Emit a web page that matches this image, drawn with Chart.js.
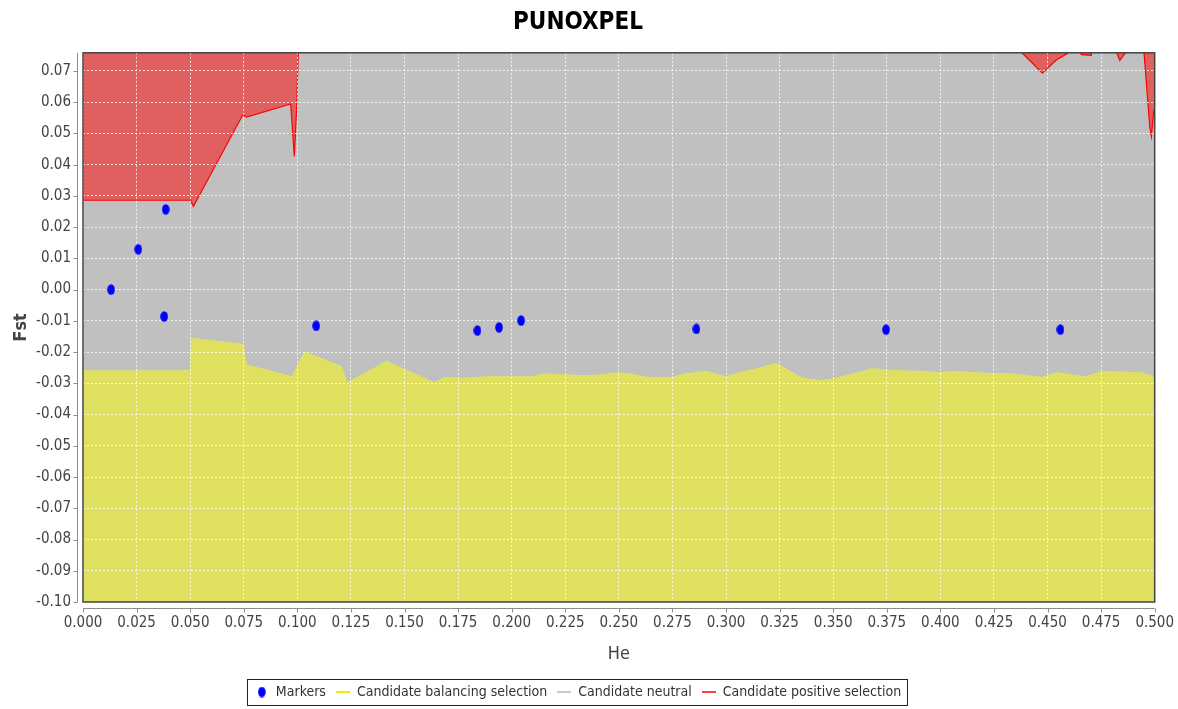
<!DOCTYPE html>
<html>
<head>
<meta charset="utf-8">
<script src="https://cdn.jsdelivr.net/npm/chart.js@4.4.1/dist/chart.umd.min.js"></script>
<style>
  html, body { margin: 0; background: #fff; }
</style>
</head>
<body>
<canvas id="chart" width="1178" height="709"></canvas>
<script>
// Fst vs He outlier plot (BayeScan/LOSITAN style): three selection regions + markers.

const chartTitle = 'PUNOXPEL';

// Markers
const markerHe  = [0.0131, 0.0258, 0.0386, 0.0379, 0.1088, 0.1840, 0.1941, 0.2044, 0.2862, 0.3747, 0.4560];
const markerFst = [0.0000, 0.0129, 0.0257, -0.0086, -0.0116, -0.0131, -0.0121, -0.0099, -0.0126, -0.0128, -0.0128];

// Upper edge of the balancing-selection region
const balHe = [0, 0.0500, 0.0505, 0.0747, 0.0763, 0.0976, 0.1033, 0.1205, 0.1233, 0.1417,
  0.1639, 0.1688, 0.1769, 0.1884, 0.2097, 0.2146, 0.2244, 0.2358, 0.2412, 0.2497,
  0.2549, 0.2635, 0.2747, 0.2807, 0.2910, 0.2996, 0.3064, 0.3151, 0.3233, 0.3357,
  0.3443, 0.3512, 0.3615, 0.3684, 0.3770, 0.3925, 0.3993, 0.4062, 0.4216, 0.4337,
  0.4474, 0.4543, 0.4681, 0.4750, 0.4938, 0.5000];
const balFst = [-0.0260, -0.0260, -0.0156, -0.0175, -0.0241, -0.0279, -0.0199, -0.0246, -0.0298, -0.0230,
  -0.0298, -0.0281, -0.0284, -0.0279, -0.0279, -0.0270, -0.0273, -0.0276, -0.0273, -0.0266,
  -0.0270, -0.0281, -0.0281, -0.0270, -0.0262, -0.0279, -0.0266, -0.0252, -0.0236, -0.0284,
  -0.0292, -0.0284, -0.0266, -0.0253, -0.0259, -0.0262, -0.0266, -0.0262, -0.0268, -0.0270,
  -0.0281, -0.0266, -0.0279, -0.0262, -0.0266, -0.0281];

// Lower edge of the positive-selection region (values above the axis top are off-chart)
const posHe = [0, 0.0502, 0.0515, 0.0745, 0.0763, 0.0969, 0.0986, 0.0997, 0.1004, 0.1020,
  0.4370, 0.4378, 0.4476, 0.4541, 0.4596, 0.4625, 0.4658, 0.4704, 0.4712, 0.4818,
  0.4822, 0.4837, 0.4865, 0.4870, 0.4945, 0.4950, 0.4977, 0.4985, 0.4995, 0.5000];
const posFst = [0.0286, 0.0286, 0.0266, 0.0559, 0.0552, 0.0594, 0.0426, 0.0586, 0.0751, 0.0790,
  0.0790, 0.0760, 0.0693, 0.0735, 0.0757, 0.0790, 0.0752, 0.0750, 0.0790, 0.0790,
  0.0760, 0.0733, 0.0760, 0.0790, 0.0790, 0.0760, 0.0522, 0.0490, 0.0570, 0.0580];

const seriesLabels = ['Markers', 'Candidate balancing selection', 'Candidate neutral', 'Candidate positive selection'];

const xMin = 0, xMax = 0.5, xStep = 0.025;
const yMin = -0.10, yMax = 0.0758, yStep = 0.01;

const FONT = "'DejaVu Sans Condensed', 'DejaVu Sans', sans-serif";
const col = {
  marker: '#0000ff',
  yellow: '#e0e060',
  gray:   '#c0c0c0',
  redFill:'#e06060',
  red:    '#ff0000',
};

const pts = (xs, ys) => xs.map((x, i) => ({ x, y: ys[i] }));

// small canvas icons for the legend (and the oval marker)
function icon(w, h, draw) {
  const c = document.createElement('canvas');
  c.width = w; c.height = h;
  draw(c.getContext('2d'));
  return c;
}
const ovalIcon = icon(8, 11, g => {
  g.fillStyle = col.marker;
  g.beginPath(); g.ellipse(4, 5.5, 3.8, 5.2, 0, 0, Math.PI * 2); g.fill();
});
const lineIcon = color => icon(14, 2, g => { g.fillStyle = color; g.fillRect(0, 0, 14, 2); });
const legendIcons = [ovalIcon, lineIcon('#f0f000'), lineIcon('#c8c8c8'), lineIcon('#ff4040')];

const plotFrame = {
  id: 'plotFrame',
  beforeDatasetDraw(chart, args) {
    // grid sits on top of the filled regions, below the markers
    if (args.index !== 0) return;
    chart.scales.x.drawGrid(chart.chartArea);
    chart.scales.y.drawGrid(chart.chartArea);
  },
  afterDraw(chart) {
    const { ctx, chartArea: a, scales } = chart;
    ctx.save();
    ctx.strokeStyle = '#8c8c8c';
    ctx.lineWidth = 1;
    const ax = a.left - 5.5, ay = a.bottom + 6.5;
    ctx.beginPath();
    ctx.moveTo(ax, a.top); ctx.lineTo(ax, a.bottom);
    scales.y.ticks.forEach(t => {
      const y = Math.round(scales.y.getPixelForValue(t.value)) + 0.5;
      ctx.moveTo(ax - 4, y); ctx.lineTo(ax, y);
    });
    ctx.moveTo(a.left, ay); ctx.lineTo(a.right, ay);
    scales.x.ticks.forEach(t => {
      const x = Math.round(scales.x.getPixelForValue(t.value)) + 0.5;
      ctx.moveTo(x, ay); ctx.lineTo(x, ay + 4);
    });
    ctx.stroke();

    ctx.strokeStyle = '#444';
    ctx.lineWidth = 1.5;
    ctx.strokeRect(a.left, a.top, a.width, a.height);

    // frame round the legend
    const hb = chart.legend.legendHitBoxes;
    if (hb && hb.length) {
      const l = Math.min(...hb.map(b => b.left)) - 8;
      const r = Math.max(...hb.map(b => b.left + b.width)) + 6;
      const t = hb[0].top - 6, b = hb[0].top + hb[0].height + 6;
      ctx.strokeStyle = '#222';
      ctx.lineWidth = 1;
      ctx.strokeRect(Math.round(l) + 0.5, Math.round(t) + 0.5, Math.round(r - l), Math.round(b - t));
    }
    ctx.restore();
  },
};

const gridOpts = {
  color: 'rgba(255,255,255,0.8)',
  lineWidth: 1,
  drawTicks: true,
  tickLength: 8,
  tickColor: 'rgba(0,0,0,0)',
};
// v4: dash pattern of the grid lines lives under border
const borderOpts = { display: false, dash: [2, 2] };

new Chart(document.getElementById('chart'), {
  type: 'line',
  data: {
    datasets: [
      {
        label: seriesLabels[0],
        data: pts(markerHe, markerFst),
        showLine: false,
        pointStyle: ovalIcon,
        pointRadius: 5,
        order: 0,
      },
      {
        label: seriesLabels[1],
        data: pts(balHe, balFst),
        borderColor: col.yellow,
        backgroundColor: col.yellow,
        borderWidth: 1,
        pointRadius: 0,
        tension: 0,
        fill: 'start',
        order: 2,
      },
      {
        label: seriesLabels[2],
        data: pts(balHe, balFst),
        borderWidth: 0,
        backgroundColor: col.gray,
        pointRadius: 0,
        tension: 0,
        fill: 'end',
        order: 3,
      },
      {
        label: seriesLabels[3],
        data: pts(posHe, posFst),
        borderColor: col.red,
        borderWidth: 1.2,
        backgroundColor: col.redFill,
        pointRadius: 0,
        tension: 0,
        fill: 'end',
        order: 1,
      },
    ],
  },
  options: {
    responsive: false,
    animation: false,
    events: [],
    layout: { padding: { left: 0, right: 22, top: 0, bottom: 0 } },
    plugins: {
      tooltip: { enabled: false },
      title: {
        display: true,
        text: chartTitle,
        color: '#000',
        font: { family: FONT, size: 24, weight: 'bold' },
        padding: { top: 8, bottom: 16 },
      },
      legend: {
        position: 'bottom',
        labels: {
          usePointStyle: true,
          boxWidth: 14,
          boxHeight: 14,
          padding: 10,
          color: '#333',
          font: { family: FONT, size: 14 },
          generateLabels: chart => chart.data.datasets.map((ds, i) => ({
            text: ds.label,
            datasetIndex: i,
            pointStyle: legendIcons[i],
            fillStyle: 'rgba(0,0,0,0)',
            strokeStyle: 'rgba(0,0,0,0)',
            lineWidth: 0,
            hidden: false,
            fontColor: '#333',
          })),
        },
      },
    },
    scales: {
      x: {
        type: 'linear',
        min: xMin,
        max: xMax,
        grid: gridOpts,
        border: borderOpts,
        ticks: {
          stepSize: xStep,
          autoSkip: false,
          maxRotation: 0,
          padding: 4,
          color: '#444',
          font: { family: FONT, size: 15 },
          callback: v => v.toFixed(3),
        },
        title: {
          display: true,
          text: 'He',
          color: '#444',
          font: { family: FONT, size: 18 },
          padding: { top: 0, bottom: 10 },
        },
        afterFit: s => { s.height = 73; },
      },
      y: {
        type: 'linear',
        min: yMin,
        max: yMax,
        grid: gridOpts,
        border: borderOpts,
        afterBuildTicks: s => {
          s.ticks = s.ticks.filter(t => Math.abs(t.value / yStep - Math.round(t.value / yStep)) < 1e-6);
        },
        ticks: {
          stepSize: yStep,
          autoSkip: false,
          padding: 4,
          color: '#444',
          font: { family: FONT, size: 15 },
          callback: v => (Math.abs(v) < 1e-9 ? 0 : v).toFixed(2),
        },
        title: {
          display: true,
          text: 'Fst',
          color: '#444',
          font: { family: FONT, size: 18, weight: 'bold' },
          padding: { top: 11, bottom: 0 },
        },
        afterFit: s => { s.width = 83; },
      },
    },
  },
  plugins: [plotFrame],
});
</script>
</body>
</html>
